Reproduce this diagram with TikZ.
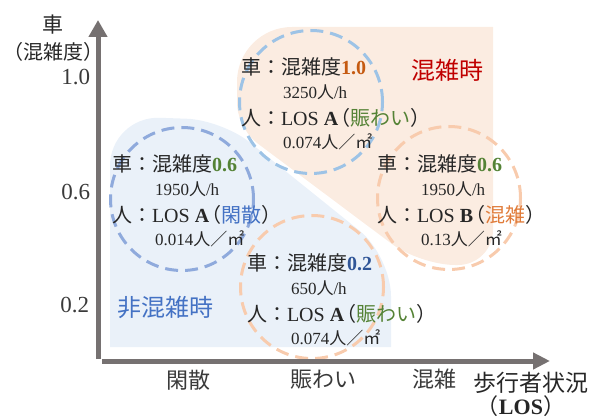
\documentclass[tikz,border=0pt]{standalone}
\usepackage{fontspec}
\setmainfont{Liberation Serif}
\newfontfamily\jp{Noto Sans CJK JP}
\usetikzlibrary{arrows.meta}
\definecolor{axisgray}{HTML}{767171}
\definecolor{txt}{HTML}{262626}
\definecolor{axtxt}{HTML}{3A3A3A}
\definecolor{orfill}{HTML}{FBECE1}
\definecolor{blfill}{HTML}{EAF1F9}
\definecolor{cblueA}{HTML}{9DC3E6}
\definecolor{cblueB}{HTML}{8FAADC}
\definecolor{corange}{HTML}{F8CBAD}
\definecolor{vorange}{HTML}{C55A11}
\definecolor{vgreen}{HTML}{548235}
\definecolor{vblue}{HTML}{2F5597}
\definecolor{lblue}{HTML}{4472C4}
\definecolor{lred}{HTML}{C00000}
\definecolor{lorange}{HTML}{E07B39}
\newcommand\lpar{\kern-8pt{\jp （}}
\begin{document}
\begin{tikzpicture}[x=1pt,y=-1pt,
  every node/.style={inner sep=0pt, outer sep=0pt, text=txt},
  mainline/.style={anchor=base west, font=\fontsize{20}{24}\selectfont},
  subline/.style={anchor=base west, font=\fontsize{17}{20}\selectfont},
  ring/.style={circle, draw, dash pattern=on 13pt off 7pt, line width=3pt, minimum size=143pt},
  axis/.style={draw=axisgray, line width=5pt},
  axlbl/.style={font=\jp\fontsize{22}{26}\selectfont, text=axtxt},
  ticklbl/.style={anchor=east, font=\fontsize{23}{26}\selectfont, text=axtxt},
  zonelbl/.style={font=\jp\fontsize{24}{28}\selectfont}]
\useasboundingbox (0,0) rectangle (601,419);

% shaded zones
\fill[orfill] (237,128) [rounded corners=55] -- (237,27) [sharp corners] -- (493,27) [rounded corners=35] -- (493,265) -- (420,265) [rounded corners=25] -- cycle;
\fill[blfill] (110,347) [rounded corners=50] -- (110,116) [rounded corners=35] -- (222,120) [rounded corners=40] -- (391,256) [sharp corners] -- (391,347) -- cycle;

% dashed rings
\node[ring, draw=cblueA] (r1) at (311,102) {};
\node[ring, draw=cblueB] (r2) at (182,199) {};
\node[ring, draw=corange] (r3) at (449,198) {};
\node[ring, draw=corange] (r4) at (312,287) {};

% axes
\coordinate (ybot) at (98,359);
\coordinate (ytop) at (98,20);
\coordinate (xbeg) at (102,361);
\coordinate (xend) at (550,361);
\draw[axis, -{Triangle[length=17pt,width=18pt]}] (ybot) -- (ytop);
\draw[axis, -{Triangle[length=17pt,width=16pt]}] (xbeg) -- (xend);

% axis labels
\node[font=\jp\fontsize{21}{24}\selectfont] (yl1) at (53,25) {車};
\node[font=\jp\fontsize{20}{24}\selectfont] (yl2) at (53,52) {（混雑度）};
\node[ticklbl] (t10) at (90,77) {1.0};
\node[ticklbl] (t06) at (90,192) {0.6};
\node[ticklbl] (t02) at (89,305) {0.2};
\node[axlbl] (x1) at (188,380) {閑散};
\node[axlbl] (x2) at (323,380) {賑わい};
\node[axlbl] (x3) at (434,379) {混雑};
\node[font=\jp\fontsize{23}{26}\selectfont] (xl1) at (531,383) {歩行者状況};
\node[font=\fontsize{22}{26}\selectfont] (xl2) at (521,406) {{\jp （}\textbf{LOS}{\jp ）}};

% zone labels
\node[zonelbl, text=lred] (zc) at (447,70) {混雑時};
\node[zonelbl, text=lblue] (zn) at (165,307) {非混雑時};

% top box (congested, LOS A)
\node[mainline] (a1) at (241,75) {{\jp 車：混雑度}\textbf{\textcolor{vorange}{1.0}}};
\node[subline] (a2) at (283,99) {3250{\jp 人}/h};
\node[mainline] (a3) at (241,126) {{\jp 人：}LOS \textbf{A}\lpar{\jp \textcolor{vgreen}{賑わい}）}};
\node[subline] (a4) at (283,149) {0.074{\jp 人／㎡}};

% left box
\node[mainline] (b1) at (112,172) {{\jp 車：混雑度}\textbf{\textcolor{vgreen}{0.6}}};
\node[subline] (b2) at (155,196) {1950{\jp 人}/h};
\node[mainline] (b3) at (112,223) {{\jp 人：}LOS \textbf{A}\lpar{\jp \textcolor{lblue}{閑散}）}};
\node[subline] (b4) at (155,246) {0.014{\jp 人／㎡}};

% right box
\node[mainline] (c1) at (377,172) {{\jp 車：混雑度}\textbf{\textcolor{vgreen}{0.6}}};
\node[subline] (c2) at (421,196) {1950{\jp 人}/h};
\node[mainline] (c3) at (377,223) {{\jp 人：}LOS \textbf{B}\lpar{\jp \textcolor{lorange}{混雑}）}};
\node[subline] (c4) at (421,246) {0.13{\jp 人／㎡}};

% bottom box
\node[mainline] (d1) at (247,270) {{\jp 車：混雑度}\textbf{\textcolor{vblue}{0.2}}};
\node[subline] (d2) at (291,294) {650{\jp 人}/h};
\node[mainline] (d3) at (247,321) {{\jp 人：}LOS \textbf{A}\lpar{\jp \textcolor{vgreen}{賑わい}）}};
\node[subline] (d4) at (291,344) {0.074{\jp 人／㎡}};
\end{tikzpicture}
\end{document}
